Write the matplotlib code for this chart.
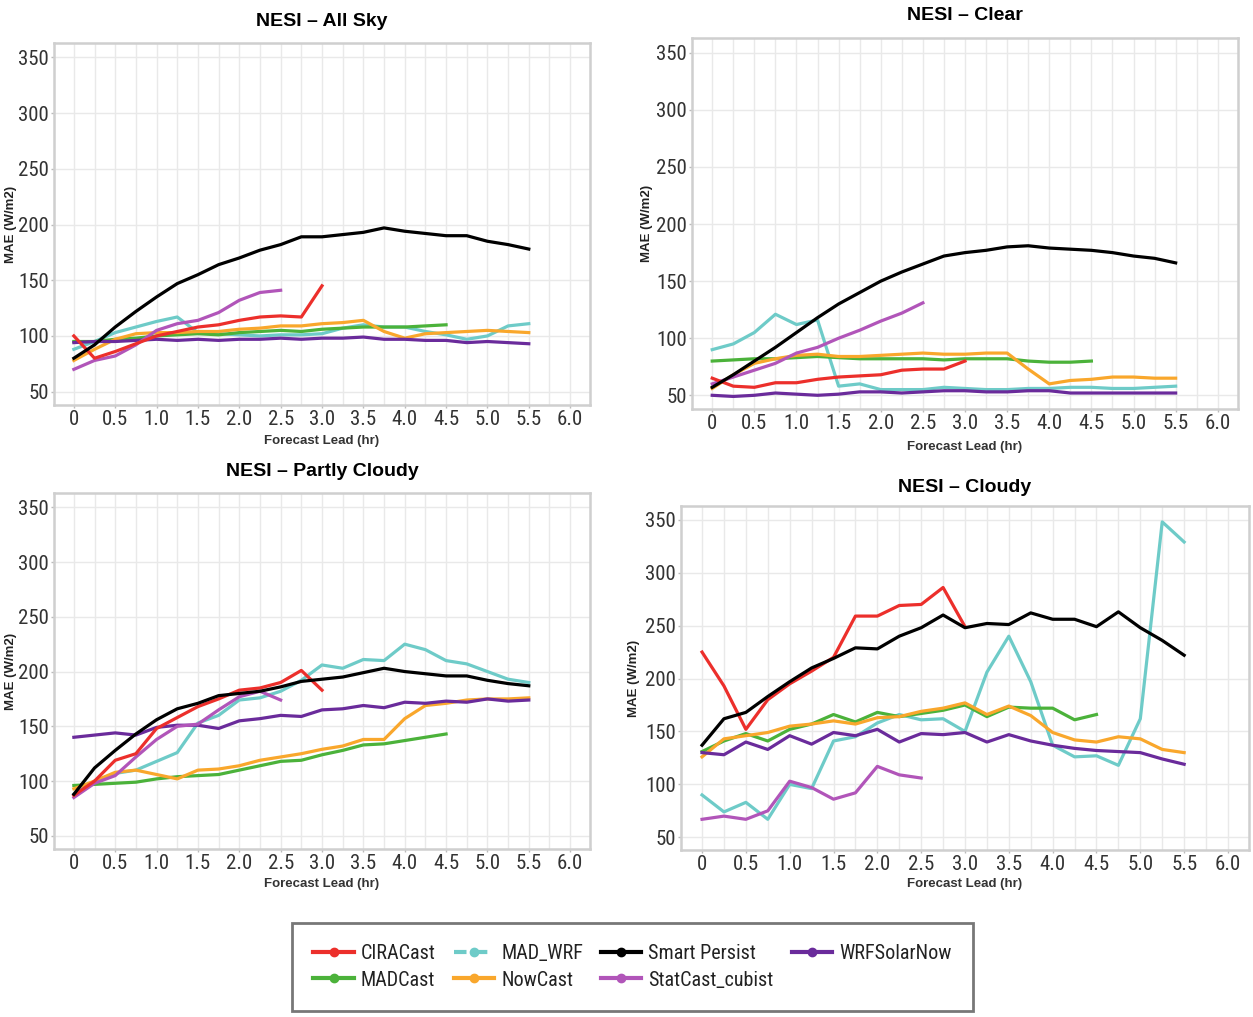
import numpy as np
import matplotlib as mpl
mpl.use("Agg")
import matplotlib.pyplot as plt
from matplotlib import font_manager as fm
from matplotlib.lines import Line2D
from matplotlib.legend_handler import HandlerLine2D

# forecast lead times (hr), every 15 min
lead = np.arange(0, 5.51, 0.25)

names = ["CIRACast", "MADCast", "MAD_WRF", "NowCast", "Smart Persist", "StatCast_cubist", "WRFSolarNow"]
colors = {
    "CIRACast": "#ec2f2b",
    "MADCast": "#4bb23a",
    "MAD_WRF": "#6ecbc8",
    "NowCast": "#f9a72c",
    "Smart Persist": "#000000",
    "StatCast_cubist": "#b155b9",
    "WRFSolarNow": "#6a2b9b",
}

# ---- NESI - All Sky
allsky = {
    "CIRACast": [100, 80, 86, 93, 100, 104, 108, 110, 114, 117, 118, 117, 145],
    "MADCast": [95, 95, 97, 98, 100, 101, 102, 101, 103, 104, 105, 104, 106, 107, 108, 108, 108, 109, 110],
    "MAD_WRF": [88, 95, 103, 108, 113, 117, 103, 102, 101, 100, 101, 101, 102, 107, 110, 108, 108, 104, 101, 97, 100, 109, 111],
    "NowCast": [78, 88, 97, 102, 103, 103, 104, 104, 106, 107, 109, 109, 111, 112, 114, 104, 98, 102, 103, 104, 105, 104, 103],
    "Smart Persist": [80, 92, 108, 122, 135, 147, 155, 164, 170, 177, 182, 189, 189, 191, 193, 197, 194, 192, 190, 190, 185, 182, 178],
    "StatCast_cubist": [70, 78, 82, 92, 105, 111, 114, 121, 132, 139, 141],
    "WRFSolarNow": [94, 95, 95, 96, 97, 96, 97, 96, 97, 97, 98, 97, 98, 98, 99, 97, 97, 96, 96, 94, 95, 94, 93],
}

# ---- NESI - Clear
clear = {
    "CIRACast": [65, 58, 57, 61, 61, 64, 66, 67, 68, 72, 73, 73, 80],
    "MADCast": [80, 81, 82, 82, 83, 84, 83, 82, 82, 82, 82, 81, 82, 82, 82, 80, 79, 79, 80],
    "MAD_WRF": [90, 95, 105, 121, 112, 116, 58, 60, 55, 55, 55, 57, 56, 55, 55, 56, 56, 57, 57, 56, 56, 57, 58],
    "NowCast": [56, 68, 78, 82, 85, 86, 84, 84, 85, 86, 87, 86, 86, 87, 87, 73, 60, 63, 64, 66, 66, 65, 65],
    "Smart Persist": [57, 68, 80, 92, 105, 118, 130, 140, 150, 158, 165, 172, 175, 177, 180, 181, 179, 178, 177, 175, 172, 170, 166],
    "StatCast_cubist": [60, 66, 72, 78, 87, 92, 100, 107, 115, 122, 131],
    "WRFSolarNow": [50, 49, 50, 52, 51, 50, 51, 53, 53, 52, 53, 54, 54, 53, 53, 54, 54, 52, 52, 52, 52, 52, 52],
}

# ---- NESI - Partly Cloudy
partly = {
    "CIRACast": [87, 100, 119, 125, 148, 158, 168, 175, 183, 185, 190, 201, 183],
    "MADCast": [96, 97, 98, 99, 102, 104, 105, 106, 110, 114, 118, 119, 124, 128, 133, 134, 137, 140, 143],
    "MAD_WRF": [88, 100, 107, 110, 118, 126, 153, 160, 174, 176, 182, 192, 206, 203, 211, 210, 225, 220, 210, 207, 200, 193, 190],
    "NowCast": [93, 100, 108, 110, 106, 102, 110, 111, 114, 119, 122, 125, 129, 132, 138, 138, 157, 169, 171, 174, 175, 175, 176],
    "Smart Persist": [88, 112, 128, 143, 156, 166, 171, 178, 180, 182, 186, 191, 193, 195, 199, 203, 200, 198, 196, 196, 192, 189, 187],
    "StatCast_cubist": [85, 98, 105, 122, 138, 150, 152, 165, 177, 182, 174],
    "WRFSolarNow": [140, 142, 144, 142, 149, 151, 151, 148, 155, 157, 160, 159, 165, 166, 169, 167, 172, 171, 173, 172, 175, 173, 174],
}

# ---- NESI - Cloudy
cloudy = {
    "CIRACast": [225, 193, 152, 180, 195, 207, 220, 259, 259, 269, 270, 286, 249],
    "MADCast": [131, 141, 148, 141, 152, 157, 166, 159, 168, 164, 167, 170, 175, 164, 173, 172, 172, 161, 166],
    "MAD_WRF": [90, 74, 83, 67, 100, 96, 141, 145, 158, 166, 161, 162, 150, 206, 240, 197, 137, 126, 127, 118, 162, 348, 329],
    "NowCast": [126, 143, 146, 149, 155, 157, 160, 157, 163, 164, 169, 172, 177, 166, 174, 165, 149, 142, 140, 145, 143, 133, 130],
    "Smart Persist": [137, 162, 168, 183, 197, 210, 219, 229, 228, 240, 248, 260, 248, 252, 251, 262, 256, 256, 249, 263, 248, 236, 222],
    "StatCast_cubist": [67, 70, 67, 75, 103, 97, 86, 92, 117, 109, 106],
    "WRFSolarNow": [130, 128, 140, 133, 146, 138, 149, 146, 152, 140, 148, 147, 149, 140, 147, 141, 137, 134, 132, 131, 130, 124, 119],
}

draw_order = ["MAD_WRF", "MADCast", "NowCast", "WRFSolarNow", "StatCast_cubist", "CIRACast", "Smart Persist"]

plt.rcParams["font.family"] = ["Liberation Sans", "DejaVu Sans"]

# look for a narrow/condensed regular face for tick labels and legend
narrow_fp = None
for want in ["Liberation Sans Narrow", "Roboto Condensed", "Open Sans Condensed", "Noto Sans", "DejaVu Sans", "Roboto"]:
    for f in fm.fontManager.ttflist:
        name_ok = f.name == want
        cond = ("Narrow" in f.name or "Condensed" in f.name or
                f.stretch in ("condensed", "semi-condensed", "extra-condensed")
                or "Condensed" in f.fname or "Narrow" in f.fname)
        if name_ok and cond and f.style == "normal" and f.weight in (400, "normal", "regular", "book"):
            narrow_fp = f.fname
            break
    if narrow_fp:
        break

if narrow_fp:
    tick_fp = fm.FontProperties(fname=narrow_fp, size=15)
    leg_fp = fm.FontProperties(fname=narrow_fp, size=14.5)
else:
    tick_fp = fm.FontProperties(family="Liberation Sans", size=13)
    leg_fp = fm.FontProperties(family="Liberation Sans", size=12.5)

fig = plt.figure(figsize=(12.53, 10.17), dpi=100)
W, H = 1253.0, 1017.0


def add_ax(l, t, r, b):
    return fig.add_axes([l / W, 1 - b / H, (r - l) / W, (b - t) / H])


panels = [
    ("NESI \u2013 All Sky", allsky, (54, 43, 590, 405), 22, 11, 441),
    ("NESI \u2013 Clear", clear, (692, 38, 1238, 409), 15, 647, 447),
    ("NESI \u2013 Partly Cloudy", partly, (54, 493, 590, 849), 472, 11, 884),
    ("NESI \u2013 Cloudy", cloudy, (681, 506, 1249, 850), 487, 634, 884),
]

for title, data, box, ty, ylx, xly in panels:
    ax = add_ax(*box)
    ax.set_xlim(-0.24, 6.24)
    ax.set_ylim(38, 363)
    ax.set_xticks(np.arange(0, 6.01, 0.5))
    ax.set_xticks(np.arange(0, 6.01, 0.25), minor=True)
    ax.set_xticklabels(["0"] + ["%.1f" % v for v in np.arange(0.5, 6.01, 0.5)])
    ax.set_yticks(np.arange(50, 351, 50))
    ax.grid(True, which="both", axis="x", color="#e9e9e9", lw=1.0)
    ax.grid(True, which="major", axis="y", color="#e9e9e9", lw=1.0)
    ax.set_axisbelow(True)
    for s in ax.spines.values():
        s.set_color("#cfcfcf")
        s.set_linewidth(1.8)
    ax.tick_params(which="major", length=2, width=1, color="#bbbbbb", pad=1.5)
    ax.tick_params(which="minor", length=0)
    for lab in ax.get_xticklabels() + ax.get_yticklabels():
        lab.set_fontproperties(tick_fp)
        lab.set_color("#333333")
    for n in draw_order:
        vals = data[n]
        ax.plot(lead[:len(vals)], vals, color=colors[n], lw=2.3, solid_joinstyle="round")
    cx = (box[0] + box[2]) / 2 / W
    fig.text(cx, 1 - ty / H, title, ha="center", va="center", fontsize=14, fontweight="bold")
    fig.text(ylx / W, 1 - ((box[1] + box[3]) / 2) / H, "MAE (W/m2)", rotation=90,
             ha="center", va="center", fontsize=9.5, fontweight="bold", color="#222222")
    fig.text(cx, 1 - xly / H, "Forecast Lead (hr)", ha="center", va="center",
             fontsize=9.5, fontweight="bold", color="#333333")


class EndDotHandler(HandlerLine2D):
    def get_xdata(self, legend, xdescent, ydescent, width, height, fontsize):
        xd = np.array([-xdescent, -xdescent + width])
        return xd, np.array([-xdescent + width])


handles = {}
for n in names:
    ls = (0, (3, 2)) if n == "MAD_WRF" else "-"
    handles[n] = Line2D([0], [0], color=colors[n], lw=3, ls=ls, marker="o", markersize=6)

order = ["CIRACast", "MADCast", "MAD_WRF", "NowCast", "Smart Persist", "StatCast_cubist", "WRFSolarNow"]
leg = fig.legend([handles[n] for n in order], order, loc="center",
                 bbox_to_anchor=((302 + 963) / 2 / W, 1 - 967 / H),
                 ncol=4, frameon=True, fancybox=False, handlelength=2.0, handletextpad=0.35,
                 columnspacing=0.9, labelspacing=0.35, borderpad=1.05, borderaxespad=0, numpoints=1,
                 handler_map={Line2D: EndDotHandler()}, prop=leg_fp)
leg.get_frame().set_edgecolor("#555555")
leg.get_frame().set_linewidth(2)
for t in leg.get_texts():
    t.set_color("#222222")

fig.savefig("out.png", dpi=100)
